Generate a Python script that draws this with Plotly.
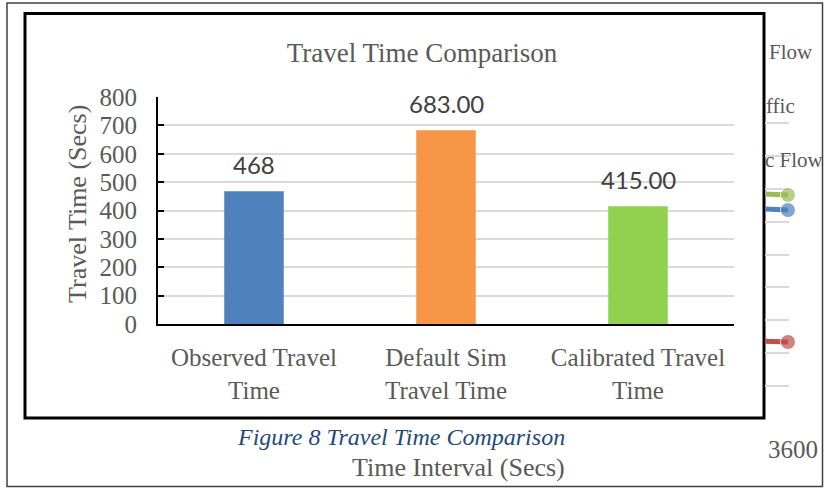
import plotly.graph_objects as go

W, H = 824, 488

# ---- main chart data ----
categories = ["Observed Travel<br>Time", "Default Sim<br>Travel Time", "Calibrated Travel<br>Time"]
travel_time = [468, 683, 415]
value_labels = ["468", "683.00", "415.00"]
bar_colors = ["#4F81BD", "#F79646", "#92D050"]
y_ticks = [0, 100, 200, 300, 400, 500, 600, 700, 800]

# ---- partially hidden background chart (visible strip only) ----
bg_time = [3300, 3600]
bg_green = [1375, 1362]
bg_blue = [1285, 1270]
bg_red = [480, 468]
bg_x_ticks = [0, 900, 1800, 2700, 3600]
bg_legend_fragments = ["Flow", "ffic", "c Flow"]

def px(x):
    return x / W

def py(y):
    return 1 - y / H

fig = go.Figure()

fig.add_trace(go.Bar(
    x=categories, y=travel_time, marker=dict(color=bar_colors, line=dict(width=0)),
    width=0.31, xaxis="x", yaxis="y", showlegend=False, hoverinfo="skip"))

for vals, col in [(bg_green, "#9BBB59"), (bg_blue, "#4F81BD"), (bg_red, "#C0504D")]:
    fig.add_trace(go.Scatter(
        x=bg_time, y=vals, mode="lines+markers", xaxis="x2", yaxis="y2",
        line=dict(color=col, width=5), marker=dict(size=[0, 15], color=col),
        cliponaxis=False, showlegend=False, hoverinfo="skip"))

serif = "Liberation Serif"
gray = "#595959"

fig.update_layout(
    template="none",
    width=W, height=H, margin=dict(l=0, r=0, t=0, b=0, autoexpand=False),
    paper_bgcolor="white", plot_bgcolor="rgba(0,0,0,0)",
    title=dict(text="Travel Time Comparison", x=px(422), y=py(53), xanchor="center",
               yanchor="middle", font=dict(family=serif, size=27, color=gray)),
    xaxis=dict(domain=[px(158), px(734)], showline=True, linecolor="black", linewidth=2,
               ticks="", showgrid=False, ticklabelstandoff=10, automargin=False,
               tickfont=dict(family=serif, size=25, color=gray)),
    yaxis=dict(domain=[py(324), py(97)], range=[0, 800], tickvals=y_ticks,
               showline=True, linecolor="black", linewidth=2,
               ticks="inside", ticklen=6, tickwidth=2, tickcolor="black",
               gridcolor="#D9D9D9", gridwidth=1.5, zeroline=False,
               ticklabelstandoff=14, automargin=False,
               tickfont=dict(family=serif, size=25, color=gray)),
    xaxis2=dict(domain=[px(765), px(788.5)], range=[3474, 3603], anchor="y2",
                tickvals=bg_x_ticks, showgrid=False, zeroline=False, showline=False,
                ticks="", ticklabelstandoff=13, ticklabelshift=5, automargin=False,
                tickfont=dict(family=serif, size=25, color=gray)),
    yaxis2=dict(domain=[py(419), py(90)], range=[0, 2000], dtick=200, anchor="x2",
                showticklabels=False, gridcolor="#D9D9D9", gridwidth=2, zeroline=False,
                showline=False, ticks="", automargin=False),
)

shapes = [
    dict(type="rect", xref="paper", yref="paper", x0=px(7), x1=px(822.5), y0=py(486.5), y1=py(3),
         line=dict(color="#404040", width=1.5), fillcolor="rgba(0,0,0,0)", layer="below"),
    dict(type="rect", xref="paper", yref="paper", x0=px(25), x1=px(764), y0=py(418), y1=py(13.5),
         line=dict(color="black", width=3), fillcolor="white", layer="below"),
]
fig.update_layout(shapes=shapes)

annotations = []
for c, v, t in zip(categories, travel_time, value_labels):
    annotations.append(dict(x=c, y=v, xref="x", yref="y", text=t, showarrow=False,
                            xanchor="center", yanchor="bottom", yshift=10,
                            font=dict(family="Lato", size=24, color="#404040")))
annotations += [
    dict(x=px(77), y=py(204), xref="paper", yref="paper", text="Travel Time (Secs)",
         textangle=-90, showarrow=False, xanchor="center", yanchor="middle",
         font=dict(family=serif, size=26, color=gray)),
    dict(x=px(401), y=py(437), xref="paper", yref="paper",
         text="<i>Figure 8 Travel Time Comparison</i>", showarrow=False,
         xanchor="center", yanchor="middle",
         font=dict(family=serif, size=24, color="#1F497D")),
    dict(x=px(458), y=py(467), xref="paper", yref="paper", text="Time Interval (Secs)",
         showarrow=False, xanchor="center", yanchor="middle",
         font=dict(family=serif, size=26, color=gray)),
]
for frag, (xx, yy) in zip(bg_legend_fragments, [(767, 52), (764, 106), (763, 160)]):
    annotations.append(dict(x=px(xx), y=py(yy), xref="paper", yref="paper", text=frag,
                            xanchor="left", yanchor="middle", showarrow=False,
                            font=dict(family=serif, size=21, color=gray)))
fig.update_layout(annotations=annotations)

fig.write_html("out.html")
